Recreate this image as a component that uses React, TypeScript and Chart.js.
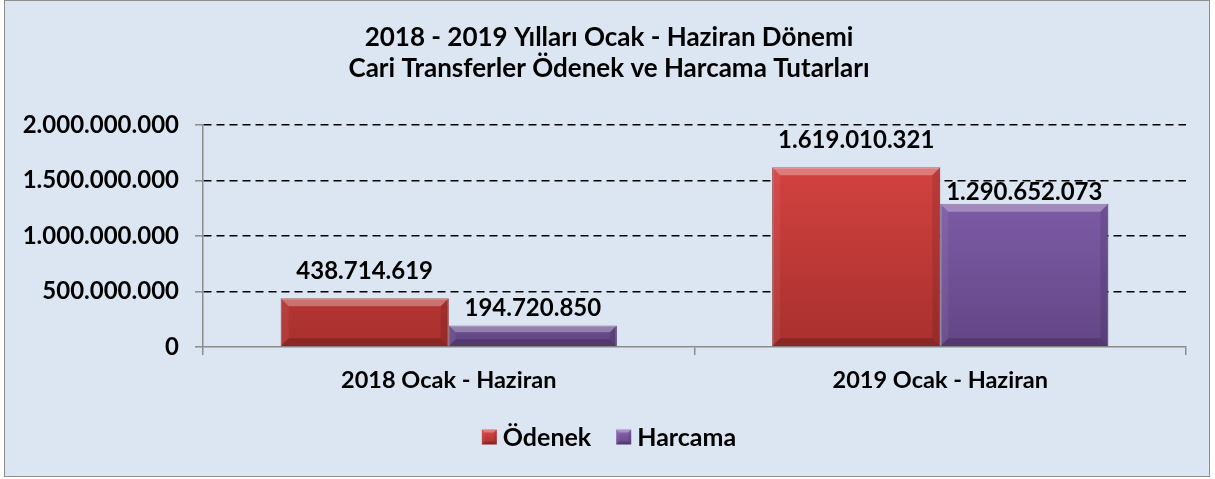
import React, { useEffect, useRef } from "react";
import { Chart, registerables } from "chart.js";

Chart.register(...registerables);

const titleLines = [
  "2018 - 2019 Yılları Ocak - Haziran Dönemi",
  "Cari Transferler Ödenek ve Harcama Tutarları",
];
const categories = ["2018 Ocak - Haziran", "2019 Ocak - Haziran"];
const seriesNames = ["Ödenek", "Harcama"];
const odenek = [438714619, 1619010321];
const harcama = [194720850, 1290652073];
const yMin = 0;
const yMax = 2000000000;
const yStep = 500000000;

// styling (not data)
const FONT = "Lato, 'Open Sans', sans-serif";
const palettes = [
  { top: "#dc4643", bottom: "#a8302e", border: "#8f2a28" },
  { top: "#8a66b6", bottom: "#634686", border: "#54396f" },
];
const labelLift = [
  [27, 27],
  [17, 11],
];

const fmt = (v: number) =>
  Math.round(v)
    .toString()
    .replace(/\B(?=(\d{3})+(?!\d))/g, ".");

function bevel(ctx: CanvasRenderingContext2D, l: number, t: number, r: number, b: number, s: number) {
  const poly = (pts: number[][], fill: string) => {
    ctx.beginPath();
    ctx.moveTo(pts[0][0], pts[0][1]);
    for (let i = 1; i < pts.length; i++) ctx.lineTo(pts[i][0], pts[i][1]);
    ctx.closePath();
    ctx.fillStyle = fill;
    ctx.fill();
  };
  poly([[l, t], [r, t], [r - s, t + s], [l + s, t + s]], "rgba(255,255,255,0.30)");
  poly([[l, t], [l + s, t + s], [l + s, b - s], [l, b]], "rgba(255,255,255,0.06)");
  poly([[r, t], [r, b], [r - s, b - s], [r - s, t + s]], "rgba(0,0,0,0.10)");
  poly([[l, b], [l + s, b - s], [r - s, b - s], [r, b]], "rgba(0,0,0,0.18)");
}

const decorPlugin = {
  id: "decor",
  afterDatasetsDraw(chart: any) {
    const ctx: CanvasRenderingContext2D = chart.ctx;
    ctx.save();
    chart.data.datasets.forEach((ds: any, di: number) => {
      const meta = chart.getDatasetMeta(di);
      meta.data.forEach((bar: any) => {
        const w = bar.width;
        const l = bar.x - w / 2;
        const r = bar.x + w / 2;
        const t = Math.min(bar.y, bar.base);
        const b = Math.max(bar.y, bar.base);
        bevel(ctx, l, t, r, b, Math.min(8, (b - t) / 3));
      });
    });
    chart.data.datasets.forEach((ds: any, di: number) => {
      const meta = chart.getDatasetMeta(di);
      meta.data.forEach((bar: any, i: number) => {
        ctx.font = `bold 24px ${FONT}`;
        ctx.fillStyle = "#000";
        ctx.textAlign = "center";
        ctx.textBaseline = "middle";
        ctx.fillText(fmt(ds.data[i]), bar.x, bar.y - labelLift[di][i]);
      });
    });
    ctx.restore();
  },
  afterDraw(chart: any) {
    const ctx: CanvasRenderingContext2D = chart.ctx;
    const cx = chart.width / 2 + 2;
    ctx.save();
    ctx.fillStyle = "#000";
    ctx.textAlign = "center";
    ctx.textBaseline = "middle";
    ctx.font = `bold 26px ${FONT}`;
    ctx.fillText(titleLines[0], cx, 36.5);
    ctx.fillText(titleLines[1], cx, 67.5);

    // legend
    ctx.font = `bold 25px ${FONT}`;
    const box = 15;
    const gapBoxText = 6;
    const gapItems = 25;
    const widths = seriesNames.map((n) => box + gapBoxText + ctx.measureText(n).width);
    const total = widths.reduce((a, b) => a + b, 0) + gapItems * (seriesNames.length - 1);
    let x = cx - total / 2;
    const y = 436;
    ctx.textAlign = "left";
    seriesNames.forEach((n, i) => {
      const g = ctx.createLinearGradient(0, y - box / 2, 0, y + box / 2);
      g.addColorStop(0, palettes[i].top);
      g.addColorStop(1, palettes[i].bottom);
      ctx.fillStyle = g;
      ctx.fillRect(x, y - box / 2, box, box);
      bevel(ctx, x, y - box / 2, x + box, y + box / 2, 3);
      ctx.fillStyle = "#000";
      ctx.fillText(n, x + box + gapBoxText, y + 1);
      x += widths[i] + gapItems;
    });
    ctx.restore();
  },
};

function makeGradient(i: number) {
  return (c: any) => {
    const chart = c.chart;
    const area = chart.chartArea;
    if (!area) return palettes[i].top;
    const g = chart.ctx.createLinearGradient(0, area.top, 0, area.bottom);
    g.addColorStop(0, palettes[i].top);
    g.addColorStop(1, palettes[i].bottom);
    return g;
  };
}

export default function App() {
  const ref = useRef<HTMLCanvasElement | null>(null);
  useEffect(() => {
    if (!ref.current) return;
    const chart = new Chart(ref.current, {
      type: "bar",
      data: {
        labels: categories,
        datasets: [
          {
            label: seriesNames[0],
            data: odenek,
            backgroundColor: makeGradient(0),
            borderColor: palettes[0].border,
            borderWidth: 1,
            categoryPercentage: 0.684,
            barPercentage: 1,
          },
          {
            label: seriesNames[1],
            data: harcama,
            backgroundColor: makeGradient(1),
            borderColor: palettes[1].border,
            borderWidth: 1,
            categoryPercentage: 0.684,
            barPercentage: 1,
          },
        ],
      },
      options: {
        animation: false,
        responsive: true,
        maintainAspectRatio: false,
        layout: { padding: { top: 124, left: 0, right: 23, bottom: 69 } },
        plugins: {
          legend: { display: false },
          title: { display: false },
          tooltip: { enabled: false },
        },
        scales: {
          x: {
            afterFit: (s: any) => {
              s.height = 60;
            },
            grid: {
              display: true,
              drawOnChartArea: false,
              drawTicks: true,
              tickLength: 8,
              tickColor: "#8c8c8c",
              tickWidth: 1.5,
              lineWidth: 1.5,
            },
            border: { color: "#8c8c8c", width: 1.5 },
            ticks: {
              color: "#000",
              padding: 11,
              font: { family: FONT, size: 23.5, weight: "bold" },
            },
          },
          y: {
            min: yMin,
            max: yMax,
            afterFit: (s: any) => {
              s.width = 198;
            },
            ticks: {
              stepSize: yStep,
              color: "#000",
              padding: 16,
              font: { family: FONT, size: 24, weight: "bold" },
              callback: (v: any) => fmt(Number(v)),
            },
            grid: {
              color: (c: any) => (c.tick && c.tick.value === 0 ? "rgba(0,0,0,0)" : "#000"),
              lineWidth: 1.6,
              tickBorderDash: [],
              tickColor: "#8c8c8c",
              tickWidth: 1.5,
              tickLength: 8,
            },
            border: { color: "#8c8c8c", width: 1.5, dash: [8, 5] },
          },
        },
      },
      plugins: [decorPlugin],
    } as any);
    return () => chart.destroy();
  }, []);

  return (
    <div
      style={{
        position: "fixed",
        left: 4,
        top: 0,
        width: 1206,
        height: 477,
        boxSizing: "border-box",
        border: "1px solid #8e8e8e",
        background: "#dce6f2",
      }}
    >
      <div style={{ position: "relative", width: 1204, height: 475 }}>
        <canvas ref={ref} />
      </div>
    </div>
  );
}
